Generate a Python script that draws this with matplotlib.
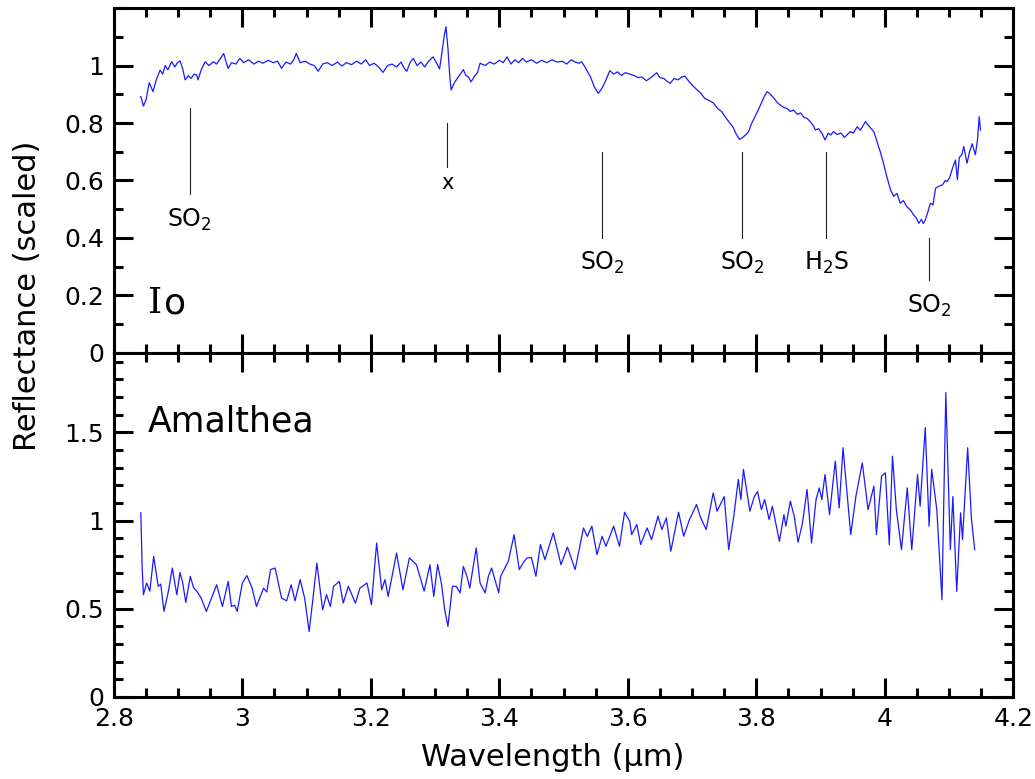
import matplotlib
matplotlib.use('Agg')
import matplotlib.pyplot as plt
from matplotlib.ticker import MultipleLocator, FuncFormatter

# Io spectrum (wavelength in um, scaled reflectance)
io_wl = [2.842, 2.846, 2.850, 2.855, 2.858, 2.861, 2.866, 2.872, 2.876, 2.880,
         2.884, 2.890, 2.895, 2.899, 2.903, 2.907, 2.911, 2.916, 2.920, 2.925,
         2.929, 2.931, 2.936, 2.942, 2.948, 2.955, 2.960, 2.966, 2.971, 2.975,
         2.978, 2.983, 2.990, 2.996, 3.002, 3.010, 3.018, 3.025, 3.032, 3.040,
         3.048, 3.055, 3.061, 3.068, 3.075, 3.080, 3.084, 3.090, 3.098, 3.105,
         3.112, 3.118, 3.125, 3.132, 3.140, 3.148, 3.155, 3.162, 3.170, 3.178,
         3.185, 3.192, 3.198, 3.205, 3.212, 3.219, 3.226, 3.233, 3.240, 3.247,
         3.252, 3.256, 3.261, 3.266, 3.272, 3.278, 3.284, 3.290, 3.297, 3.302,
         3.307, 3.311, 3.314, 3.317, 3.320, 3.323, 3.325, 3.330, 3.336, 3.341,
         3.344, 3.348, 3.352, 3.356, 3.362, 3.366, 3.370, 3.378, 3.385, 3.392,
         3.400, 3.406, 3.412, 3.418, 3.424, 3.430, 3.436, 3.442, 3.450, 3.458,
         3.466, 3.474, 3.482, 3.490, 3.498, 3.505, 3.512, 3.518, 3.524, 3.528,
         3.532, 3.536, 3.542, 3.548, 3.554, 3.558, 3.562, 3.566, 3.572, 3.578,
         3.584, 3.590, 3.596, 3.603, 3.610, 3.616, 3.622, 3.629, 3.636, 3.645,
         3.650, 3.656, 3.661, 3.666, 3.672, 3.678, 3.684, 3.689, 3.695, 3.701,
         3.707, 3.713, 3.720, 3.727, 3.733, 3.740, 3.746, 3.752, 3.759, 3.764,
         3.769, 3.774, 3.779, 3.784, 3.788, 3.793, 3.798, 3.803, 3.808, 3.813,
         3.817, 3.822, 3.828, 3.833, 3.837, 3.842, 3.848, 3.853, 3.858, 3.864,
         3.869, 3.874, 3.879, 3.884, 3.889, 3.892, 3.897, 3.902, 3.907, 3.912,
         3.916, 3.920, 3.926, 3.932, 3.937, 3.941, 3.946, 3.951, 3.957, 3.962,
         3.966, 3.970, 3.975, 3.979, 3.983, 3.988, 3.993, 3.998, 4.003, 4.009,
         4.014, 4.019, 4.024, 4.029, 4.034, 4.040, 4.045, 4.049, 4.053, 4.057,
         4.060, 4.063, 4.067, 4.071, 4.075, 4.079, 4.084, 4.090, 4.094, 4.097,
         4.101, 4.105, 4.110, 4.113, 4.116, 4.120, 4.123, 4.128, 4.132, 4.136,
         4.141, 4.144, 4.147, 4.149]
io_refl = [0.892, 0.859, 0.880, 0.940, 0.925, 0.909, 0.950, 0.984, 0.970, 1.000,
           0.985, 1.013, 0.995, 1.010, 1.016, 0.990, 0.950, 0.965, 0.955, 0.970,
           0.967, 0.950, 0.985, 1.013, 1.000, 1.013, 1.005, 1.025, 1.042, 1.010,
           0.990, 1.010, 1.005, 1.025, 1.010, 1.020, 1.005, 1.015, 1.008, 1.018,
           1.010, 1.015, 0.990, 1.012, 1.005, 1.020, 1.042, 1.010, 1.015, 1.005,
           1.000, 0.980, 1.005, 1.010, 1.000, 1.012, 0.998, 1.010, 1.003, 1.015,
           1.005, 1.020, 1.000, 1.008, 0.995, 0.976, 1.000, 1.005, 0.995, 1.012,
           0.990, 0.980, 1.010, 1.025, 1.000, 1.012, 0.995, 1.015, 1.030, 1.010,
           0.988, 1.050, 1.100, 1.135, 1.060, 0.960, 0.915, 0.940, 0.960, 0.975,
           0.986, 0.965, 0.960, 0.943, 0.965, 0.975, 1.008, 1.000, 1.012, 1.005,
           1.018, 1.010, 1.030, 1.005, 1.020, 1.010, 1.025, 1.012, 1.020, 1.008,
           1.018, 1.010, 1.020, 1.012, 1.015, 1.005, 1.020, 1.012, 1.008, 1.013,
           1.000, 0.984, 0.960, 0.925, 0.903, 0.915, 0.930, 0.950, 0.982, 0.970,
           0.978, 0.965, 0.975, 0.970, 0.965, 0.958, 0.960, 0.947, 0.958, 0.975,
           0.958, 0.955, 0.945, 0.938, 0.955, 0.950, 0.960, 0.963, 0.945, 0.930,
           0.917, 0.905, 0.885, 0.878, 0.870, 0.850, 0.840, 0.820, 0.799, 0.785,
           0.760, 0.743, 0.750, 0.760, 0.770, 0.800, 0.822, 0.845, 0.870, 0.895,
           0.909, 0.900, 0.885, 0.870, 0.863, 0.855, 0.850, 0.840, 0.845, 0.830,
           0.835, 0.820, 0.816, 0.805, 0.790, 0.776, 0.780, 0.765, 0.741, 0.765,
           0.758, 0.770, 0.760, 0.765, 0.750, 0.758, 0.770, 0.765, 0.787, 0.775,
           0.790, 0.805, 0.790, 0.780, 0.770, 0.735, 0.700, 0.660, 0.615, 0.567,
           0.545, 0.555, 0.521, 0.530, 0.510, 0.497, 0.480, 0.470, 0.451, 0.465,
           0.450, 0.462, 0.490, 0.521, 0.515, 0.573, 0.580, 0.585, 0.600, 0.596,
           0.610, 0.640, 0.671, 0.603, 0.680, 0.690, 0.718, 0.660, 0.700, 0.728,
           0.690, 0.735, 0.822, 0.776]

# Amalthea spectrum
am_wl = [2.842, 2.844, 2.846, 2.851, 2.856, 2.862, 2.869, 2.873, 2.878, 2.885,
         2.891, 2.898, 2.903, 2.907, 2.912, 2.919, 2.924, 2.929, 2.936, 2.944,
         2.952, 2.960, 2.969, 2.978, 2.983, 2.988, 2.992, 3.000, 3.007, 3.015,
         3.022, 3.033, 3.038, 3.044, 3.051, 3.061, 3.069, 3.076, 3.082, 3.090,
         3.097, 3.104, 3.110, 3.116, 3.125, 3.131, 3.137, 3.142, 3.151, 3.157,
         3.165, 3.176, 3.183, 3.194, 3.201, 3.209, 3.217, 3.222, 3.227, 3.240,
         3.250, 3.260, 3.271, 3.283, 3.292, 3.298, 3.304, 3.310, 3.315, 3.320,
         3.327, 3.333, 3.339, 3.344, 3.350, 3.354, 3.364, 3.370, 3.378, 3.383,
         3.388, 3.399, 3.402, 3.414, 3.423, 3.431, 3.437, 3.443, 3.450, 3.457,
         3.464, 3.471, 3.484, 3.496, 3.506, 3.518, 3.531, 3.537, 3.544, 3.552,
         3.560, 3.566, 3.578, 3.587, 3.595, 3.603, 3.606, 3.614, 3.620, 3.630,
         3.637, 3.647, 3.653, 3.660, 3.667, 3.679, 3.687, 3.696, 3.707, 3.713,
         3.722, 3.733, 3.739, 3.750, 3.757, 3.765, 3.772, 3.776, 3.780, 3.790,
         3.797, 3.802, 3.808, 3.813, 3.820, 3.825, 3.836, 3.843, 3.846, 3.853,
         3.859, 3.865, 3.872, 3.879, 3.886, 3.893, 3.898, 3.902, 3.907, 3.914,
         3.923, 3.929, 3.935, 3.947, 3.955, 3.965, 3.974, 3.983, 3.987, 3.995,
         4.001, 4.007, 4.012, 4.018, 4.026, 4.035, 4.042, 4.051, 4.055, 4.063,
         4.069, 4.073, 4.081, 4.089, 4.095, 4.102, 4.106, 4.112, 4.118, 4.121,
         4.129, 4.135, 4.140]
am_refl = [1.044, 0.740, 0.580, 0.646, 0.600, 0.797, 0.627, 0.640, 0.485, 0.600,
           0.731, 0.580, 0.706, 0.650, 0.536, 0.684, 0.620, 0.600, 0.560, 0.485,
           0.560, 0.636, 0.513, 0.655, 0.513, 0.520, 0.485, 0.646, 0.688, 0.620,
           0.513, 0.617, 0.595, 0.722, 0.731, 0.561, 0.545, 0.636, 0.545, 0.665,
           0.560, 0.371, 0.560, 0.759, 0.494, 0.580, 0.513, 0.627, 0.655, 0.532,
           0.627, 0.532, 0.617, 0.646, 0.523, 0.873, 0.608, 0.665, 0.570, 0.816,
           0.608, 0.788, 0.750, 0.600, 0.750, 0.570, 0.750, 0.640, 0.494, 0.400,
           0.627, 0.627, 0.590, 0.740, 0.680, 0.617, 0.845, 0.646, 0.590, 0.684,
           0.731, 0.590, 0.684, 0.769, 0.920, 0.722, 0.760, 0.788, 0.790, 0.684,
           0.864, 0.778, 0.930, 0.750, 0.850, 0.722, 0.958, 0.910, 0.968, 0.807,
           0.911, 0.854, 0.968, 0.854, 1.047, 0.996, 0.920, 0.978, 0.864, 0.958,
           0.892, 1.025, 0.949, 1.015, 0.826, 1.047, 0.911, 1.006, 1.091, 1.020,
           0.949, 1.157, 1.053, 1.136, 0.835, 1.025, 1.233, 1.119, 1.290, 1.053,
           1.136, 1.165, 1.062, 1.119, 1.006, 1.081, 0.882, 1.034, 0.968, 1.110,
           1.025, 0.877, 0.987, 1.176, 0.873, 1.119, 1.185, 1.119, 1.261, 1.034,
           1.337, 1.072, 1.413, 0.920, 1.136, 1.327, 1.062, 1.195, 0.920, 1.252,
           1.271, 0.863, 1.365, 1.062, 0.835, 1.185, 0.835, 1.261, 1.081, 1.527,
           0.968, 1.290, 1.062, 0.551, 1.725, 0.835, 1.136, 0.599, 1.044, 0.892,
           1.413, 1.006, 0.835]

# band labels on the Io panel
band_wl = [2.918, 3.319, 3.560, 3.778, 3.909, 4.069]
band_top = [0.852, 0.800, 0.699, 0.699, 0.699, 0.400]
band_bot = [0.553, 0.647, 0.400, 0.400, 0.400, 0.254]
band_lab = ['SO$_2$', 'x', 'SO$_2$', 'SO$_2$', 'H$_2$S', 'SO$_2$']
band_txt_y = [0.440, 0.591, 0.289, 0.289, 0.289, 0.139]

plt.rcParams['font.family'] = 'DejaVu Sans'
plt.rcParams['mathtext.fontset'] = 'dejavusans'

fig = plt.figure(figsize=(10.35, 7.79), dpi=100)
ax1 = fig.add_axes([0.110, 0.5469, 0.869, 0.4428])
ax2 = fig.add_axes([0.110, 0.1053, 0.869, 0.4416])

line_color = '#1a1aff'
ax1.plot(io_wl, io_refl, color=line_color, lw=0.9)
ax2.plot(am_wl, am_refl, color=line_color, lw=0.9)

ax1.set_ylim(0, 1.2)
ax2.set_ylim(0, 1.95)

fmt = FuncFormatter(lambda v, p: '%g' % round(v, 2))
for ax in (ax1, ax2):
    ax.set_xlim(2.8, 4.2)
    ax.xaxis.set_major_locator(MultipleLocator(0.2))
    ax.xaxis.set_minor_locator(MultipleLocator(0.05))
    ax.xaxis.set_major_formatter(fmt)
    ax.yaxis.set_major_formatter(fmt)
    ax.tick_params(which='both', direction='in', top=True, right=True,
                   width=2.2, labelsize=18, pad=7)
    ax.tick_params(which='major', length=13.5)
    ax.tick_params(which='minor', length=6.5)
    for s in ax.spines.values():
        s.set_linewidth(2.2)

ax1.set_yticks([0, 0.2, 0.4, 0.6, 0.8, 1.0])
ax1.yaxis.set_minor_locator(MultipleLocator(0.1))
ax1.tick_params(labelbottom=False)
ax2.yaxis.set_major_locator(MultipleLocator(0.5))
ax2.yaxis.set_minor_locator(MultipleLocator(0.1))

for i in range(len(band_wl)):
    ax1.plot([band_wl[i], band_wl[i]], [band_bot[i], band_top[i]],
             color='#222222', lw=0.8)
    if band_lab[i] == 'x':
        ax1.text(band_wl[i], band_txt_y[i], band_lab[i], ha='center',
                 va='center', fontsize=15)
    else:
        ax1.text(band_wl[i], band_txt_y[i], band_lab[i], ha='center',
                 va='baseline', fontsize=17)

# "Io" with a serif capital I, as in the original
t_i = ax1.text(2.853, 0.139, 'I', fontsize=26, ha='left', va='baseline',
               family='DejaVu Serif')
ax1.annotate('o', xy=(1, 0), xycoords=t_i, xytext=(1, 0),
             textcoords='offset points', fontsize=26, ha='left', va='bottom')
ax2.text(2.853, 1.506, 'Amalthea', fontsize=25, ha='left', va='baseline')

fig.text(0.027, 0.62, 'Reflectance (scaled)', rotation=90, ha='center',
         va='center', fontsize=22)
fig.text(0.534, 0.028, 'Wavelength (\u03bcm)', ha='center', va='center',
         fontsize=22)

fig.savefig('out.png', dpi=100)
